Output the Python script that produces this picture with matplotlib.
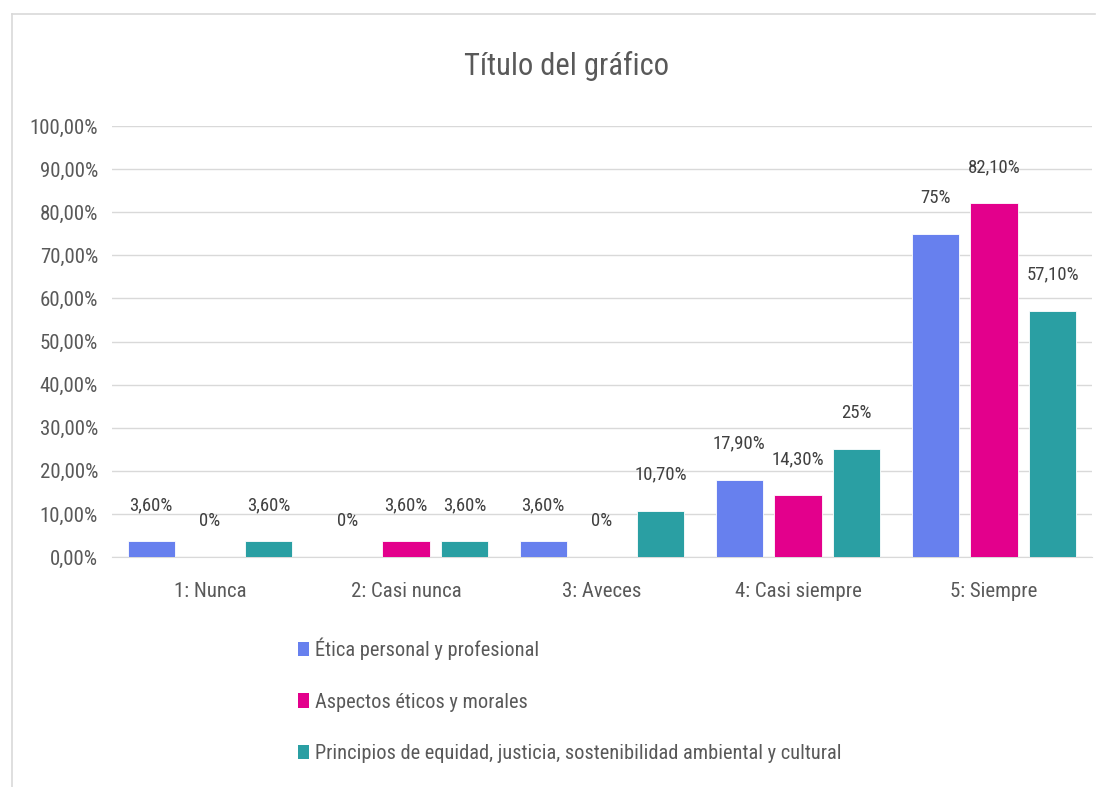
import matplotlib
matplotlib.use('Agg')
import matplotlib.pyplot as plt
import numpy as np
from matplotlib.patches import Patch
from matplotlib.lines import Line2D

plt.rcParams['font.family'] = ['Roboto Condensed', 'DejaVu Sans']

# datos
categorias = ['1: Nunca', '2: Casi nunca', '3: Aveces', '4: Casi siempre', '5: Siempre']
series = ['Ética personal y profesional',
          'Aspectos éticos y morales',
          'Principios de equidad, justicia, sostenibilidad ambiental y cultural']
etica = [3.6, 0, 3.6, 17.9, 75]
aspectos = [0, 3.6, 0, 14.3, 82.1]
principios = [3.6, 3.6, 10.7, 25, 57.1]
etiquetas_etica = ['3,60%', '0%', '3,60%', '17,90%', '75%']
etiquetas_aspectos = ['0%', '3,60%', '0%', '14,30%', '82,10%']
etiquetas_principios = ['3,60%', '3,60%', '10,70%', '25%', '57,10%']
yticks = [0, 10, 20, 30, 40, 50, 60, 70, 80, 90, 100]
ytick_labels = ['0,00%', '10,00%', '20,00%', '30,00%', '40,00%', '50,00%',
                '60,00%', '70,00%', '80,00%', '90,00%', '100,00%']

colores = ['#6780EE', '#E3008C', '#2A9FA3']
gris = '#595959'
gris_linea = '#D9D9D9'

fig = plt.figure(figsize=(11.02, 7.87), dpi=100)
ax = fig.add_axes([112 / 1102, 230 / 787, 980 / 1102, 431 / 787])

x = np.arange(len(categorias))
ancho = 0.24
desp = 0.30
valores = [etica, aspectos, principios]
etiquetas = [etiquetas_etica, etiquetas_aspectos, etiquetas_principios]

for i, (vals, labs) in enumerate(zip(valores, etiquetas)):
    pos = x + (i - 1) * desp
    ax.bar(pos, vals, width=ancho, color=colores[i], edgecolor='white', linewidth=0.6, zorder=3)
    for px, v, lab in zip(pos, vals, labs):
        ax.annotate(lab, (px, v), xytext=(0, 26), textcoords='offset points',
                    ha='center', va='center', fontsize=13.5, color='#404040')

ax.set_xlim(-0.5, 4.5)
ax.set_ylim(0, 100)
ax.set_yticks(yticks)
ax.set_yticklabels(ytick_labels, fontsize=15, color=gris)
ax.set_xticks(x)
ax.set_xticklabels(categorias, fontsize=15, color=gris)
ax.tick_params(axis='both', length=0)
ax.tick_params(axis='y', pad=10)
ax.tick_params(axis='x', pad=18)
ax.grid(axis='y', color=gris_linea, linewidth=1, zorder=0)
for s in ['top', 'right', 'left']:
    ax.spines[s].set_visible(False)
ax.spines['bottom'].set_color(gris_linea)

# título centrado en el gráfico completo
fig.text(566 / 1102, 1 - 66 / 787, 'Título del gráfico', fontsize=22, color=gris,
         ha='center', va='center')

handles = [Patch(facecolor=c, edgecolor='none') for c in colores]
fig.legend(handles, series, loc='upper left', bbox_to_anchor=(280 / 1102, 1 - 619 / 787),
           frameon=False, fontsize=14.7, labelcolor=gris, handlelength=0.5,
           handleheight=0.7, handletextpad=0.3, labelspacing=1.6)

# marco del gráfico
fig.add_artist(Line2D([12 / 1102, 12 / 1102], [0, 1 - 14 / 787], color=gris_linea, linewidth=1.2))
fig.add_artist(Line2D([12 / 1102, 1095 / 1102], [1 - 14 / 787, 1 - 14 / 787], color=gris_linea, linewidth=1.2))

fig.savefig('out.png', dpi=100)
